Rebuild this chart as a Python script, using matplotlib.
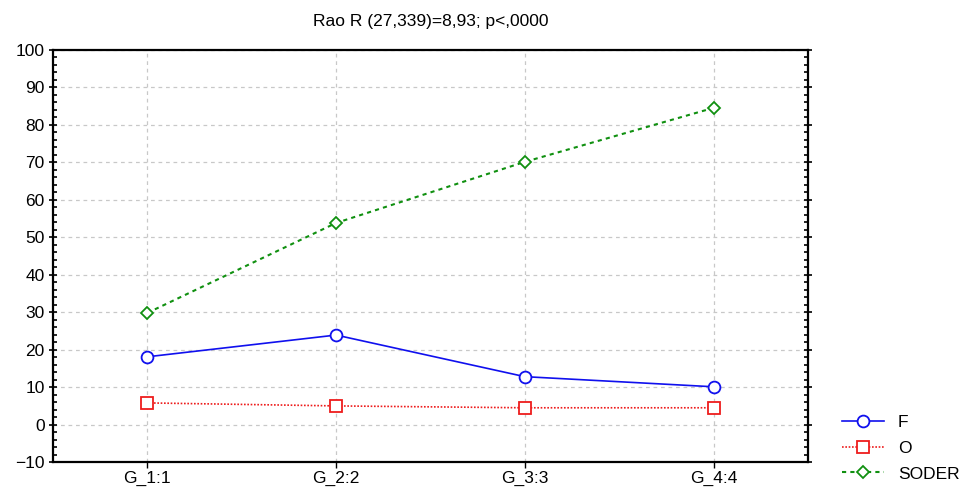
import matplotlib.pyplot as plt
from matplotlib.ticker import MultipleLocator
import numpy as np

plt.rcParams["font.family"] = ["Liberation Sans", "DejaVu Sans"]

groups = ["G_1:1", "G_2:2", "G_3:3", "G_4:4"]
f_vals = [18.1, 23.9, 12.8, 10.1]
o_vals = [5.8, 5.0, 4.5, 4.5]
soder_vals = [29.8, 53.8, 70.1, 84.5]
title = "Rao R (27,339)=8,93; p<,0000"

x = np.arange(len(groups))

fig = plt.figure(figsize=(9.63, 4.88), dpi=100)
ax = fig.add_axes([0.055, 0.053, 0.784, 0.845])

ax.plot(x, f_vals, color="#1010ee", lw=1.2, ls="-", marker="o", ms=8.5,
        mfc="white", mec="#1010ee", mew=1.3, label="F")
ax.plot(x, o_vals, color="#ee1c1c", lw=1.2, ls=(0, (1, 1)), marker="s", ms=8,
        mfc="white", mec="#ee1c1c", mew=1.3, label="O")
ax.plot(x, soder_vals, color="#109010", lw=1.5, ls=(0, (2, 2)), marker="D", ms=6.5,
        mfc="white", mec="#109010", mew=1.3, label="SODER")

ax.set_xlim(-0.5, 3.5)
ax.set_ylim(-10, 100)
ax.set_xticks(x)
ax.set_xticklabels(groups)
ax.yaxis.set_major_locator(MultipleLocator(10))
ax.yaxis.set_minor_locator(MultipleLocator(2))

ax.grid(True, which="major", color="#c8c8c8", ls=(0, (3, 3)), lw=0.9)
ax.set_axisbelow(True)

for sp in ax.spines.values():
    sp.set_linewidth(1.6)

ax.tick_params(axis="y", which="major", direction="inout", length=6, width=1.2,
               labelsize=12.5, right=True, pad=3)
ax.tick_params(axis="y", which="minor", direction="in", length=3, width=1.2, right=True)
ax.tick_params(axis="x", which="major", direction="out", length=4, width=1.0,
               labelsize=12.5, pad=2)

ax.set_title(title, fontsize=12.5, pad=17)

ax.legend(loc="lower left", bbox_to_anchor=(1.025, -0.085), frameon=False,
          fontsize=12.5, handlelength=2.4, labelspacing=0.6, handletextpad=0.8)

fig.savefig("out.png", dpi=100)
